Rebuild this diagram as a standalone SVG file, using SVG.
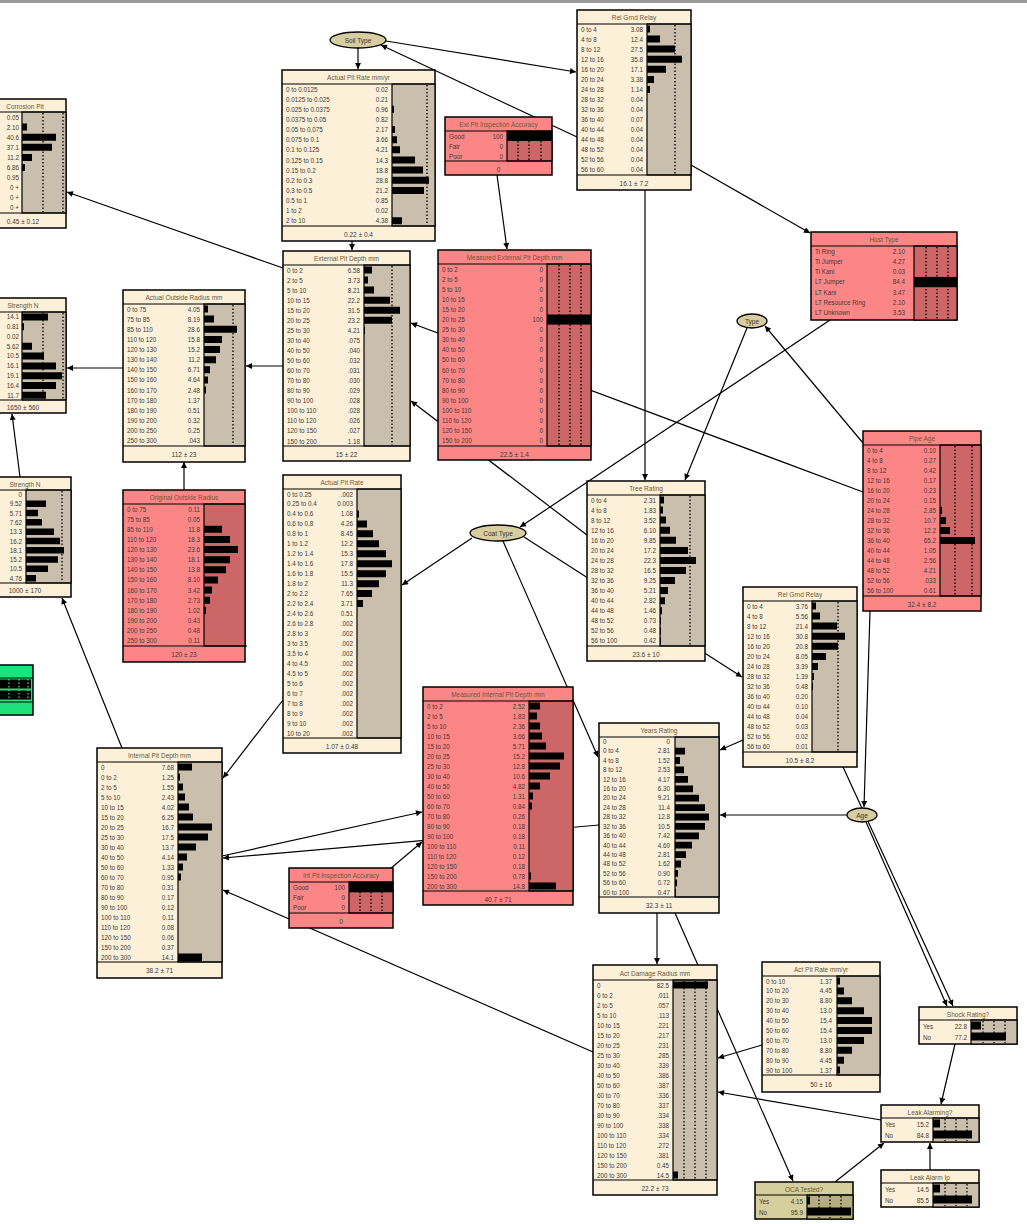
<svg xmlns="http://www.w3.org/2000/svg" width="1027" height="1224" viewBox="0 0 1027 1224">
<defs>
<marker id="a" viewBox="0 0 10 10" refX="10" refY="5" markerWidth="7" markerHeight="6" markerUnits="userSpaceOnUse" orient="auto"><path d="M0,0 L10,5 L0,10 z" fill="#000"/></marker>
<style>
.c{fill:#fdf0d9;stroke:#000;stroke-width:1.5}
.p{fill:#fc8686;stroke:#000;stroke-width:1.5}
.k{fill:#d4cf9c;stroke:#000;stroke-width:1.5}
.gr{fill:#20e07c;stroke:#000;stroke-width:1.5}
.ga{fill:#c9bfac;stroke:#000;stroke-width:1.2}
.pa{fill:#cd6767;stroke:#000;stroke-width:1.2}
.ka{fill:#b3ad80;stroke:#000;stroke-width:1.2}
.s{stroke:#000;stroke-width:1.2}
.d{stroke:#000;stroke-width:1.3;stroke-dasharray:1.5 2}
.b{fill:#000}
.e{fill:#d8cda0;stroke:#000;stroke-width:1.3}
text{font-family:"Liberation Sans",Arial,sans-serif}
.t{font-size:6.5px;fill:#6b5836;text-anchor:middle}
.l{font-size:6.3px;fill:#3a3a3a}
.v{font-size:6.3px;fill:#3a3a3a;text-anchor:end}
.f{font-size:6.5px;fill:#3a3a3a;text-anchor:middle}
.et{font-size:6.5px;fill:#333;text-anchor:middle}
#edges path{stroke:#000;stroke-width:1.2;fill:none;marker-end:url(#a)}
</style>
</defs>
<rect x="0" y="0" width="1027" height="1224" fill="#fff"/>
<rect x="0" y="0" width="1027" height="3" fill="#9a9a9a"/>

<g id="edges">
<path d="M358 48 L358 69"/>
<path d="M386 41 L576 72"/>
<path d="M577 137 L381 45"/>
<path d="M497 175 L507 249"/>
<path d="M352 241 L352 250"/>
<path d="M283 268 L67 192"/>
<path d="M283 366 L246 366"/>
<path d="M123 368 L67 368"/>
<path d="M184 490 L184 462"/>
<path d="M863 492 L411 323"/>
<path d="M587 535 L411 401"/>
<path d="M20 477 L12 414"/>
<path d="M122 748 L62 598"/>
<path d="M283 700 L223 778"/>
<path d="M472 538 L402 585"/>
<path d="M830 320 L520 527"/>
<path d="M645 190 L645 480"/>
<path d="M747 328 L685 480"/>
<path d="M863 443 L765 326"/>
<path d="M691 165 L810 233"/>
<path d="M524 537 L742 677"/>
<path d="M503 541 L598 757"/>
<path d="M743 740 L720 750"/>
<path d="M847 815 L720 815"/>
<path d="M870 611 L864 807"/>
<path d="M843 767 L953 1006"/>
<path d="M866 822 L947 1006"/>
<path d="M955 1044 L941 1104"/>
<path d="M881 1120 L718 1092"/>
<path d="M930 1170 L930 1143"/>
<path d="M835 1182 L884 1143"/>
<path d="M657 913 L657 964"/>
<path d="M675 913 L793 1181"/>
<path d="M762 1045 L718 1058"/>
<path d="M593 1052 L223 890"/>
<path d="M222 856 L422 812"/>
<path d="M599 825 L223 858"/>
<path d="M390 869 L422 842"/>
</g>

<g id="n_soil_type">
<ellipse class="e" cx="358" cy="40" rx="28" ry="8"/>
<text class="et" x="358" y="42.5">Soil Type</text>
</g>

<g id="n_actual_pit_rate_mmyr">
<rect class="c" x="282" y="70" width="153" height="171"/>
<rect class="ga" x="392" y="84" width="43" height="142"/>
<line class="s" x1="282" y1="84" x2="435" y2="84"/>
<line class="s" x1="282" y1="226" x2="435" y2="226"/>
<text class="t" x="358.5" y="80">Actual Pit Rate mm/yr</text>
<line class="d" x1="427" y1="85" x2="427" y2="225"/>
<path class="b" d="M392 105.8h2v7h-2z M392 126.1h3v7h-3z M392 136.2h5v7h-5z M392 146.3h8v7h-8z M392 156.5h23v7h-23z M392 166.6h31v7h-31z M392 176.8h37v7h-37z M392 186.9h32v7h-32z M392 217.3h10v7h-10z"/>
<text class="l" x="286" y="91.6"><tspan x="286">0 to 0.0125</tspan><tspan x="286" dy="10.14">0.0125 to 0.025</tspan><tspan x="286" dy="10.14">0.025 to 0.0375</tspan><tspan x="286" dy="10.14">0.0375 to 0.05</tspan><tspan x="286" dy="10.14">0.05 to 0.075</tspan><tspan x="286" dy="10.14">0.075 to 0.1</tspan><tspan x="286" dy="10.14">0.1 to 0.125</tspan><tspan x="286" dy="10.14">0.125 to 0.15</tspan><tspan x="286" dy="10.14">0.15 to 0.2</tspan><tspan x="286" dy="10.14">0.2 to 0.3</tspan><tspan x="286" dy="10.14">0.3 to 0.5</tspan><tspan x="286" dy="10.14">0.5 to 1</tspan><tspan x="286" dy="10.14">1 to 2</tspan><tspan x="286" dy="10.14">2 to 10</tspan></text>
<text class="v" x="388" y="91.6"><tspan x="388">0.02</tspan><tspan x="388" dy="10.14">0.21</tspan><tspan x="388" dy="10.14">0.96</tspan><tspan x="388" dy="10.14">0.82</tspan><tspan x="388" dy="10.14">2.17</tspan><tspan x="388" dy="10.14">3.66</tspan><tspan x="388" dy="10.14">4.21</tspan><tspan x="388" dy="10.14">14.3</tspan><tspan x="388" dy="10.14">18.8</tspan><tspan x="388" dy="10.14">28.8</tspan><tspan x="388" dy="10.14">21.2</tspan><tspan x="388" dy="10.14">0.85</tspan><tspan x="388" dy="10.14">0.02</tspan><tspan x="388" dy="10.14">4.38</tspan></text>
<text class="f" x="358.5" y="237">0.22 ± 0.4</text>
</g>

<g id="n_rel_grnd_relay_1">
<rect class="c" x="577" y="10" width="114" height="180"/>
<rect class="ga" x="647" y="24" width="44" height="151"/>
<line class="s" x1="577" y1="24" x2="691" y2="24"/>
<line class="s" x1="577" y1="175" x2="691" y2="175"/>
<text class="t" x="634" y="20">Rel Grnd Relay</text>
<line class="d" x1="675" y1="25" x2="675" y2="174"/>
<path class="b" d="M647 25.5h3v7h-3z M647 35.6h13v7h-13z M647 45.6h28v7h-28z M647 55.7h35v7h-35z M647 65.8h19v7h-19z M647 75.9h7v7h-7z M647 85.9h3v7h-3z"/>
<text class="l" x="581" y="31.5"><tspan x="581">0 to 4</tspan><tspan x="581" dy="10.07">4 to 8</tspan><tspan x="581" dy="10.07">8 to 12</tspan><tspan x="581" dy="10.07">12 to 16</tspan><tspan x="581" dy="10.07">16 to 20</tspan><tspan x="581" dy="10.07">20 to 24</tspan><tspan x="581" dy="10.07">24 to 28</tspan><tspan x="581" dy="10.07">28 to 32</tspan><tspan x="581" dy="10.07">32 to 36</tspan><tspan x="581" dy="10.07">36 to 40</tspan><tspan x="581" dy="10.07">40 to 44</tspan><tspan x="581" dy="10.07">44 to 48</tspan><tspan x="581" dy="10.07">48 to 52</tspan><tspan x="581" dy="10.07">52 to 56</tspan><tspan x="581" dy="10.07">56 to 60</tspan></text>
<text class="v" x="643" y="31.5"><tspan x="643">3.08</tspan><tspan x="643" dy="10.07">12.4</tspan><tspan x="643" dy="10.07">27.5</tspan><tspan x="643" dy="10.07">35.8</tspan><tspan x="643" dy="10.07">17.1</tspan><tspan x="643" dy="10.07">3.38</tspan><tspan x="643" dy="10.07">1.14</tspan><tspan x="643" dy="10.07">0.04</tspan><tspan x="643" dy="10.07">0.04</tspan><tspan x="643" dy="10.07">0.07</tspan><tspan x="643" dy="10.07">0.04</tspan><tspan x="643" dy="10.07">0.04</tspan><tspan x="643" dy="10.07">0.04</tspan><tspan x="643" dy="10.07">0.04</tspan><tspan x="643" dy="10.07">0.04</tspan></text>
<text class="f" x="634" y="186">16.1 ± 7.2</text>
</g>

<g id="n_ext_pit_inspection_accuracy">
<rect class="p" x="445" y="117" width="107" height="58"/>
<rect class="pa" x="507" y="131" width="45" height="30"/>
<line class="s" x1="445" y1="131" x2="552" y2="131"/>
<line class="s" x1="445" y1="161" x2="552" y2="161"/>
<text class="t" x="498.5" y="127">Ext Pit Inspection Accuracy</text>
<line class="d" x1="518" y1="141" x2="518" y2="161"/>
<line class="d" x1="529" y1="141" x2="529" y2="161"/>
<line class="d" x1="541" y1="141" x2="541" y2="161"/>
<rect class="b" x="507" y="131" width="45" height="10"/>
<text class="l" x="449" y="138.5"><tspan x="449">Good</tspan><tspan x="449" dy="10">Fair</tspan><tspan x="449" dy="10">Poor</tspan></text>
<text class="v" x="503" y="138.5"><tspan x="503">100</tspan><tspan x="503" dy="10">0</tspan><tspan x="503" dy="10">0</tspan></text>
<text class="f" x="498.5" y="172">0</text>
</g>

<g id="n_corrosion_pit">
<rect class="c" x="-20" y="99" width="86" height="129"/>
<rect class="ga" x="22" y="112" width="44" height="101"/>
<line class="s" x1="-20" y1="112" x2="66" y2="112"/>
<line class="s" x1="-20" y1="213" x2="66" y2="213"/>
<text class="t" x="25" y="109">Corrosion Pit</text>
<line class="d" x1="43" y1="113" x2="43" y2="212"/>
<line class="d" x1="63" y1="113" x2="63" y2="212"/>
<path class="b" d="M22 123.6h5v7h-5z M22 133.7h34v7h-34z M22 143.8h30v7h-30z M22 153.9h10v7h-10z M22 164h3v7h-3z"/>
<text class="v" x="19" y="119.5"><tspan x="19">0.05</tspan><tspan x="19" dy="10.1">2.10</tspan><tspan x="19" dy="10.1">40.6</tspan><tspan x="19" dy="10.1">37.1</tspan><tspan x="19" dy="10.1">11.2</tspan><tspan x="19" dy="10.1">6.86</tspan><tspan x="19" dy="10.1">0.95</tspan><tspan x="19" dy="10.1">0 +</tspan><tspan x="19" dy="10.1">0 +</tspan><tspan x="19" dy="10.1">0 +</tspan></text>
<text class="f" x="23" y="224">0.45 ± 0.12</text>
</g>

<g id="n_strength_1">
<rect class="c" x="-20" y="298" width="86" height="115"/>
<rect class="ga" x="22" y="312" width="44" height="88"/>
<line class="s" x1="-20" y1="312" x2="66" y2="312"/>
<line class="s" x1="-20" y1="400" x2="66" y2="400"/>
<text class="t" x="23" y="308">Strength N</text>
<line class="d" x1="43" y1="313" x2="43" y2="399"/>
<line class="d" x1="63" y1="313" x2="63" y2="399"/>
<path class="b" d="M22 313.5h26v7h-26z M22 323.3h2v7h-2z M22 342.8h10v7h-10z M22 352.6h22v7h-22z M22 362.4h34v7h-34z M22 372.2h40v7h-40z M22 382h34v7h-34z M22 391.7h24v7h-24z"/>
<text class="v" x="19" y="319.3"><tspan x="19">14.1</tspan><tspan x="19" dy="9.78">0.81</tspan><tspan x="19" dy="9.78">0.02</tspan><tspan x="19" dy="9.78">5.62</tspan><tspan x="19" dy="9.78">10.5</tspan><tspan x="19" dy="9.78">16.1</tspan><tspan x="19" dy="9.78">19.1</tspan><tspan x="19" dy="9.78">16.4</tspan><tspan x="19" dy="9.78">11.7</tspan></text>
<text class="f" x="23" y="410">1650 ± 560</text>
</g>

<g id="n_strength_2">
<rect class="c" x="-20" y="477" width="91" height="120"/>
<rect class="ga" x="26" y="490" width="45" height="93"/>
<line class="s" x1="-20" y1="490" x2="71" y2="490"/>
<line class="s" x1="-20" y1="583" x2="71" y2="583"/>
<text class="t" x="25" y="487">Strength N</text>
<line class="d" x1="62" y1="491" x2="62" y2="582"/>
<path class="b" d="M26 500.5h20v6.5h-20z M26 509.8h12v6.5h-12z M26 519.1h16v6.5h-16z M26 528.4h28v6.5h-28z M26 537.7h34v6.5h-34z M26 547h38v6.5h-38z M26 556.3h32v6.5h-32z M26 565.6h22v6.5h-22z M26 574.9h10v6.5h-10z"/>
<text class="v" x="22" y="497"><tspan x="22">0</tspan><tspan x="22" dy="9.3">9.52</tspan><tspan x="22" dy="9.3">5.71</tspan><tspan x="22" dy="9.3">7.62</tspan><tspan x="22" dy="9.3">13.3</tspan><tspan x="22" dy="9.3">16.2</tspan><tspan x="22" dy="9.3">18.1</tspan><tspan x="22" dy="9.3">15.2</tspan><tspan x="22" dy="9.3">10.5</tspan><tspan x="22" dy="9.3">4.76</tspan></text>
<text class="f" x="25" y="593">1000 ± 170</text>
</g>

<g id="n_green_partial">
<rect class="gr" x="-20" y="665" width="53" height="50"/>
<line class="s" x1="-20" y1="678" x2="33" y2="678"/>
<line class="s" x1="-20" y1="702" x2="33" y2="702"/>
<rect class="b" x="0" y="679.5" width="31" height="9"/>
<rect class="b" x="0" y="690.5" width="31" height="9"/>
<line x1="9" y1="679" x2="9" y2="701" stroke="#20e07c" stroke-width="1.3" stroke-dasharray="1.5 2"/>
<line x1="19" y1="679" x2="19" y2="701" stroke="#20e07c" stroke-width="1.3" stroke-dasharray="1.5 2"/>
<line x1="28" y1="679" x2="28" y2="701" stroke="#20e07c" stroke-width="1.3" stroke-dasharray="1.5 2"/>
</g>

<g id="n_external_pit_depth">
<rect class="c" x="283" y="251" width="127" height="210"/>
<rect class="ga" x="364" y="265" width="46" height="181"/>
<line class="s" x1="283" y1="265" x2="410" y2="265"/>
<line class="s" x1="283" y1="446" x2="410" y2="446"/>
<text class="t" x="346.5" y="261">External Pit Depth mm</text>
<line class="d" x1="392" y1="266" x2="392" y2="445"/>
<path class="b" d="M364 266.5h8v7h-8z M364 276.6h4v7h-4z M364 286.6h10v7h-10z M364 296.7h26v7h-26z M364 306.7h36v7h-36z M364 316.8h28v7h-28z M364 326.9h1v7h-1z"/>
<text class="l" x="287" y="272.5"><tspan x="287">0 to 2</tspan><tspan x="287" dy="10.06">2 to 5</tspan><tspan x="287" dy="10.06">5 to 10</tspan><tspan x="287" dy="10.06">10 to 15</tspan><tspan x="287" dy="10.06">15 to 20</tspan><tspan x="287" dy="10.06">20 to 25</tspan><tspan x="287" dy="10.06">25 to 30</tspan><tspan x="287" dy="10.06">30 to 40</tspan><tspan x="287" dy="10.06">40 to 50</tspan><tspan x="287" dy="10.06">50 to 60</tspan><tspan x="287" dy="10.06">60 to 70</tspan><tspan x="287" dy="10.06">70 to 80</tspan><tspan x="287" dy="10.06">80 to 90</tspan><tspan x="287" dy="10.06">90 to 100</tspan><tspan x="287" dy="10.06">100 to 110</tspan><tspan x="287" dy="10.06">110 to 120</tspan><tspan x="287" dy="10.06">120 to 150</tspan><tspan x="287" dy="10.06">150 to 200</tspan></text>
<text class="v" x="360" y="272.5"><tspan x="360">6.58</tspan><tspan x="360" dy="10.06">3.73</tspan><tspan x="360" dy="10.06">8.21</tspan><tspan x="360" dy="10.06">22.2</tspan><tspan x="360" dy="10.06">31.5</tspan><tspan x="360" dy="10.06">23.2</tspan><tspan x="360" dy="10.06">4.21</tspan><tspan x="360" dy="10.06">.075</tspan><tspan x="360" dy="10.06">.040</tspan><tspan x="360" dy="10.06">.032</tspan><tspan x="360" dy="10.06">.031</tspan><tspan x="360" dy="10.06">.030</tspan><tspan x="360" dy="10.06">.029</tspan><tspan x="360" dy="10.06">.028</tspan><tspan x="360" dy="10.06">.028</tspan><tspan x="360" dy="10.06">.026</tspan><tspan x="360" dy="10.06">.027</tspan><tspan x="360" dy="10.06">1.18</tspan></text>
<text class="f" x="346.5" y="457">15 ± 22</text>
</g>

<g id="n_measured_external_pit_depth">
<rect class="p" x="438" y="250" width="153" height="210"/>
<rect class="pa" x="547" y="264" width="44" height="182"/>
<line class="s" x1="438" y1="264" x2="591" y2="264"/>
<line class="s" x1="438" y1="446" x2="591" y2="446"/>
<text class="t" x="514.5" y="260">Measured External Pit Depth mm</text>
<line class="d" x1="559" y1="265" x2="559" y2="445"/>
<line class="d" x1="570" y1="265" x2="570" y2="445"/>
<line class="d" x1="581" y1="265" x2="581" y2="445"/>
<rect class="b" x="547" y="314.5" width="44" height="10.1"/>
<text class="l" x="442" y="271.5"><tspan x="442">0 to 2</tspan><tspan x="442" dy="10.1">2 to 5</tspan><tspan x="442" dy="10.1">5 to 10</tspan><tspan x="442" dy="10.1">10 to 15</tspan><tspan x="442" dy="10.1">15 to 20</tspan><tspan x="442" dy="10.1">20 to 25</tspan><tspan x="442" dy="10.1">25 to 30</tspan><tspan x="442" dy="10.1">30 to 40</tspan><tspan x="442" dy="10.1">40 to 50</tspan><tspan x="442" dy="10.1">50 to 60</tspan><tspan x="442" dy="10.1">60 to 70</tspan><tspan x="442" dy="10.1">70 to 80</tspan><tspan x="442" dy="10.1">80 to 90</tspan><tspan x="442" dy="10.1">90 to 100</tspan><tspan x="442" dy="10.1">100 to 110</tspan><tspan x="442" dy="10.1">110 to 120</tspan><tspan x="442" dy="10.1">120 to 150</tspan><tspan x="442" dy="10.1">150 to 200</tspan></text>
<text class="v" x="543" y="271.5"><tspan x="543">0</tspan><tspan x="543" dy="10.1">0</tspan><tspan x="543" dy="10.1">0</tspan><tspan x="543" dy="10.1">0</tspan><tspan x="543" dy="10.1">0</tspan><tspan x="543" dy="10.1">100</tspan><tspan x="543" dy="10.1">0</tspan><tspan x="543" dy="10.1">0</tspan><tspan x="543" dy="10.1">0</tspan><tspan x="543" dy="10.1">0</tspan><tspan x="543" dy="10.1">0</tspan><tspan x="543" dy="10.1">0</tspan><tspan x="543" dy="10.1">0</tspan><tspan x="543" dy="10.1">0</tspan><tspan x="543" dy="10.1">0</tspan><tspan x="543" dy="10.1">0</tspan><tspan x="543" dy="10.1">0</tspan><tspan x="543" dy="10.1">0</tspan></text>
<text class="f" x="514.5" y="457">22.5 ± 1.4</text>
</g>

<g id="n_actual_outside_radius">
<rect class="c" x="123" y="290" width="122" height="172"/>
<rect class="ga" x="204" y="304" width="41" height="142"/>
<line class="s" x1="123" y1="304" x2="245" y2="304"/>
<line class="s" x1="123" y1="446" x2="245" y2="446"/>
<text class="t" x="184" y="300">Actual Outside Radius mm</text>
<line class="d" x1="233" y1="305" x2="233" y2="445"/>
<path class="b" d="M204 305.5h4v7h-4z M204 315.6h10v7h-10z M204 325.8h33v7h-33z M204 335.9h18v7h-18z M204 346.1h16v7h-16z M204 356.2h12v7h-12z M204 366.3h6v7h-6z M204 376.5h4v7h-4z M204 386.6h2v7h-2z"/>
<text class="l" x="127" y="311.5"><tspan x="127">0 to 75</tspan><tspan x="127" dy="10.14">75 to 85</tspan><tspan x="127" dy="10.14">85 to 110</tspan><tspan x="127" dy="10.14">110 to 120</tspan><tspan x="127" dy="10.14">120 to 130</tspan><tspan x="127" dy="10.14">130 to 140</tspan><tspan x="127" dy="10.14">140 to 150</tspan><tspan x="127" dy="10.14">150 to 160</tspan><tspan x="127" dy="10.14">160 to 170</tspan><tspan x="127" dy="10.14">170 to 180</tspan><tspan x="127" dy="10.14">180 to 190</tspan><tspan x="127" dy="10.14">190 to 200</tspan><tspan x="127" dy="10.14">200 to 250</tspan><tspan x="127" dy="10.14">250 to 300</tspan></text>
<text class="v" x="200" y="311.5"><tspan x="200">4.05</tspan><tspan x="200" dy="10.14">8.19</tspan><tspan x="200" dy="10.14">28.6</tspan><tspan x="200" dy="10.14">15.8</tspan><tspan x="200" dy="10.14">15.2</tspan><tspan x="200" dy="10.14">11.2</tspan><tspan x="200" dy="10.14">6.71</tspan><tspan x="200" dy="10.14">4.64</tspan><tspan x="200" dy="10.14">2.48</tspan><tspan x="200" dy="10.14">1.37</tspan><tspan x="200" dy="10.14">0.51</tspan><tspan x="200" dy="10.14">0.32</tspan><tspan x="200" dy="10.14">0.25</tspan><tspan x="200" dy="10.14">.043</tspan></text>
<text class="f" x="184" y="457">112 ± 23</text>
</g>

<g id="n_original_outside_radius">
<rect class="p" x="123" y="490" width="122" height="172"/>
<rect class="pa" x="204" y="504" width="41" height="142"/>
<line class="s" x1="123" y1="504" x2="245" y2="504"/>
<line class="s" x1="123" y1="646" x2="247" y2="646"/>
<text class="t" x="184" y="500">Original Outside Radius</text>
<path class="b" d="M204 525.8h18v7h-18z M204 535.9h26v7h-26z M204 546.1h34v7h-34z M204 556.2h26v7h-26z M204 566.3h22v7h-22z M204 576.5h14v7h-14z M204 586.6h8v7h-8z M204 596.8h6v7h-6z M204 606.9h2v7h-2z"/>
<text class="l" x="127" y="511.5"><tspan x="127">0 to 75</tspan><tspan x="127" dy="10.14">75 to 85</tspan><tspan x="127" dy="10.14">85 to 110</tspan><tspan x="127" dy="10.14">110 to 120</tspan><tspan x="127" dy="10.14">120 to 130</tspan><tspan x="127" dy="10.14">130 to 140</tspan><tspan x="127" dy="10.14">140 to 150</tspan><tspan x="127" dy="10.14">150 to 160</tspan><tspan x="127" dy="10.14">160 to 170</tspan><tspan x="127" dy="10.14">170 to 180</tspan><tspan x="127" dy="10.14">180 to 190</tspan><tspan x="127" dy="10.14">190 to 200</tspan><tspan x="127" dy="10.14">200 to 250</tspan><tspan x="127" dy="10.14">250 to 300</tspan></text>
<text class="v" x="200" y="511.5"><tspan x="200">0.11</tspan><tspan x="200" dy="10.14">0.05</tspan><tspan x="200" dy="10.14">11.8</tspan><tspan x="200" dy="10.14">18.3</tspan><tspan x="200" dy="10.14">23.6</tspan><tspan x="200" dy="10.14">18.1</tspan><tspan x="200" dy="10.14">13.8</tspan><tspan x="200" dy="10.14">8.10</tspan><tspan x="200" dy="10.14">3.42</tspan><tspan x="200" dy="10.14">2.73</tspan><tspan x="200" dy="10.14">1.02</tspan><tspan x="200" dy="10.14">0.43</tspan><tspan x="200" dy="10.14">0.48</tspan><tspan x="200" dy="10.14">0.11</tspan></text>
<text class="f" x="184" y="657">120 ± 23</text>
</g>

<g id="n_host_type">
<rect class="p" x="811" y="232" width="146" height="88"/>
<rect class="pa" x="914" y="246" width="43" height="74"/>
<line class="s" x1="811" y1="246" x2="957" y2="246"/>
<text class="t" x="884" y="242">Host Type</text>
<line class="d" x1="926" y1="247" x2="926" y2="319"/>
<line class="d" x1="937" y1="247" x2="937" y2="319"/>
<line class="d" x1="948" y1="247" x2="948" y2="319"/>
<rect class="b" x="914" y="276.9" width="43" height="10.3"/>
<text class="l" x="815" y="253.5"><tspan x="815">Ti Ring</tspan><tspan x="815" dy="10.29">Ti Jumper</tspan><tspan x="815" dy="10.29">Ti Kani</tspan><tspan x="815" dy="10.29">LT Jumper</tspan><tspan x="815" dy="10.29">LT Kani</tspan><tspan x="815" dy="10.29">LT Resource Ring</tspan><tspan x="815" dy="10.29">LT Unknown</tspan></text>
<text class="v" x="905" y="253.5"><tspan x="905">2.10</tspan><tspan x="905" dy="10.29">4.27</tspan><tspan x="905" dy="10.29">0.03</tspan><tspan x="905" dy="10.29">84.4</tspan><tspan x="905" dy="10.29">3.47</tspan><tspan x="905" dy="10.29">2.10</tspan><tspan x="905" dy="10.29">3.53</tspan></text>
</g>

<g id="n_type">
<ellipse class="e" cx="752" cy="321" rx="15" ry="7"/>
<text class="et" x="752" y="323.5">Type</text>
</g>

<g id="n_pipe_age">
<rect class="p" x="863" y="431" width="118" height="180"/>
<rect class="pa" x="940" y="445" width="41" height="151"/>
<line class="s" x1="863" y1="445" x2="981" y2="445"/>
<line class="s" x1="863" y1="596" x2="981" y2="596"/>
<text class="t" x="922" y="441">Pipe Age</text>
<line class="d" x1="955" y1="446" x2="955" y2="595"/>
<line class="d" x1="972" y1="446" x2="972" y2="595"/>
<path class="b" d="M940 506.9h2v7h-2z M940 517h6v7h-6z M940 527.1h10v7h-10z M940 537.1h35v7h-35z"/>
<text class="l" x="867" y="452.5"><tspan x="867">0 to 4</tspan><tspan x="867" dy="10.07">4 to 8</tspan><tspan x="867" dy="10.07">8 to 12</tspan><tspan x="867" dy="10.07">12 to 16</tspan><tspan x="867" dy="10.07">16 to 20</tspan><tspan x="867" dy="10.07">20 to 24</tspan><tspan x="867" dy="10.07">24 to 28</tspan><tspan x="867" dy="10.07">28 to 32</tspan><tspan x="867" dy="10.07">32 to 36</tspan><tspan x="867" dy="10.07">36 to 40</tspan><tspan x="867" dy="10.07">40 to 44</tspan><tspan x="867" dy="10.07">44 to 48</tspan><tspan x="867" dy="10.07">48 to 52</tspan><tspan x="867" dy="10.07">52 to 56</tspan><tspan x="867" dy="10.07">56 to 100</tspan></text>
<text class="v" x="936" y="452.5"><tspan x="936">0.10</tspan><tspan x="936" dy="10.07">0.27</tspan><tspan x="936" dy="10.07">0.42</tspan><tspan x="936" dy="10.07">0.17</tspan><tspan x="936" dy="10.07">0.23</tspan><tspan x="936" dy="10.07">0.15</tspan><tspan x="936" dy="10.07">2.85</tspan><tspan x="936" dy="10.07">10.7</tspan><tspan x="936" dy="10.07">12.2</tspan><tspan x="936" dy="10.07">65.2</tspan><tspan x="936" dy="10.07">1.05</tspan><tspan x="936" dy="10.07">2.56</tspan><tspan x="936" dy="10.07">4.21</tspan><tspan x="936" dy="10.07">.033</tspan><tspan x="936" dy="10.07">0.61</tspan></text>
<text class="f" x="922" y="607">32.4 ± 8.2</text>
</g>

<g id="n_tree_rating">
<rect class="c" x="587" y="481" width="118" height="180"/>
<rect class="ga" x="660" y="495" width="45" height="151"/>
<line class="s" x1="587" y1="495" x2="705" y2="495"/>
<line class="s" x1="587" y1="646" x2="705" y2="646"/>
<text class="t" x="646" y="491">Tree Rating</text>
<line class="d" x1="690" y1="496" x2="690" y2="645"/>
<path class="b" d="M660 496.5h4v7h-4z M660 506.6h3v7h-3z M660 516.6h6v7h-6z M660 526.7h10v7h-10z M660 536.8h16v7h-16z M660 546.9h28v7h-28z M660 556.9h36v7h-36z M660 567h26v7h-26z M660 577.1h15v7h-15z M660 587.1h8v7h-8z M660 597.2h5v7h-5z M660 607.3h2v7h-2z M660 617.3h1v7h-1z M660 627.4h1v7h-1z M660 637.5h1v7h-1z"/>
<text class="l" x="591" y="502.5"><tspan x="591">0 to 4</tspan><tspan x="591" dy="10.07">4 to 8</tspan><tspan x="591" dy="10.07">8 to 12</tspan><tspan x="591" dy="10.07">12 to 16</tspan><tspan x="591" dy="10.07">16 to 20</tspan><tspan x="591" dy="10.07">20 to 24</tspan><tspan x="591" dy="10.07">24 to 28</tspan><tspan x="591" dy="10.07">28 to 32</tspan><tspan x="591" dy="10.07">32 to 36</tspan><tspan x="591" dy="10.07">36 to 40</tspan><tspan x="591" dy="10.07">40 to 44</tspan><tspan x="591" dy="10.07">44 to 48</tspan><tspan x="591" dy="10.07">48 to 52</tspan><tspan x="591" dy="10.07">52 to 56</tspan><tspan x="591" dy="10.07">56 to 100</tspan></text>
<text class="v" x="656" y="502.5"><tspan x="656">2.31</tspan><tspan x="656" dy="10.07">1.83</tspan><tspan x="656" dy="10.07">3.52</tspan><tspan x="656" dy="10.07">6.10</tspan><tspan x="656" dy="10.07">9.85</tspan><tspan x="656" dy="10.07">17.2</tspan><tspan x="656" dy="10.07">22.3</tspan><tspan x="656" dy="10.07">16.5</tspan><tspan x="656" dy="10.07">9.25</tspan><tspan x="656" dy="10.07">5.21</tspan><tspan x="656" dy="10.07">2.82</tspan><tspan x="656" dy="10.07">1.46</tspan><tspan x="656" dy="10.07">0.73</tspan><tspan x="656" dy="10.07">0.48</tspan><tspan x="656" dy="10.07">0.42</tspan></text>
<text class="f" x="646" y="657">23.6 ± 10</text>
</g>

<g id="n_coat_type">
<ellipse class="e" cx="498" cy="533" rx="28" ry="8"/>
<text class="et" x="498" y="535.5">Coat Type</text>
</g>

<g id="n_actual_pit_rate">
<rect class="c" x="283" y="475" width="118" height="278"/>
<rect class="ga" x="357" y="489" width="44" height="249"/>
<line class="s" x1="283" y1="489" x2="401" y2="489"/>
<line class="s" x1="283" y1="738" x2="401" y2="738"/>
<text class="t" x="342" y="485">Actual Pit Rate</text>
<path class="b" d="M357 510.4h2v7h-2z M357 520.4h10v7h-10z M357 530.3h16v7h-16z M357 540.3h22v7h-22z M357 550.3h29v7h-29z M357 560.2h35v7h-35z M357 570.2h29v7h-29z M357 580.2h22v7h-22z M357 590.1h15v7h-15z M357 600.1h6v7h-6z"/>
<text class="l" x="287" y="496.5"><tspan x="287">0 to 0.25</tspan><tspan x="287" dy="9.96">0.25 to 0.4</tspan><tspan x="287" dy="9.96">0.4 to 0.6</tspan><tspan x="287" dy="9.96">0.6 to 0.8</tspan><tspan x="287" dy="9.96">0.8 to 1</tspan><tspan x="287" dy="9.96">1 to 1.2</tspan><tspan x="287" dy="9.96">1.2 to 1.4</tspan><tspan x="287" dy="9.96">1.4 to 1.6</tspan><tspan x="287" dy="9.96">1.6 to 1.8</tspan><tspan x="287" dy="9.96">1.8 to 2</tspan><tspan x="287" dy="9.96">2 to 2.2</tspan><tspan x="287" dy="9.96">2.2 to 2.4</tspan><tspan x="287" dy="9.96">2.4 to 2.6</tspan><tspan x="287" dy="9.96">2.6 to 2.8</tspan><tspan x="287" dy="9.96">2.8 to 3</tspan><tspan x="287" dy="9.96">3 to 3.5</tspan><tspan x="287" dy="9.96">3.5 to 4</tspan><tspan x="287" dy="9.96">4 to 4.5</tspan><tspan x="287" dy="9.96">4.5 to 5</tspan><tspan x="287" dy="9.96">5 to 6</tspan><tspan x="287" dy="9.96">6 to 7</tspan><tspan x="287" dy="9.96">7 to 8</tspan><tspan x="287" dy="9.96">8 to 9</tspan><tspan x="287" dy="9.96">9 to 10</tspan><tspan x="287" dy="9.96">10 to 20</tspan></text>
<text class="v" x="353" y="496.5"><tspan x="353">.002</tspan><tspan x="353" dy="9.96">0.003</tspan><tspan x="353" dy="9.96">1.08</tspan><tspan x="353" dy="9.96">4.26</tspan><tspan x="353" dy="9.96">8.45</tspan><tspan x="353" dy="9.96">12.2</tspan><tspan x="353" dy="9.96">15.3</tspan><tspan x="353" dy="9.96">17.8</tspan><tspan x="353" dy="9.96">15.5</tspan><tspan x="353" dy="9.96">11.3</tspan><tspan x="353" dy="9.96">7.65</tspan><tspan x="353" dy="9.96">3.71</tspan><tspan x="353" dy="9.96">0.51</tspan><tspan x="353" dy="9.96">.002</tspan><tspan x="353" dy="9.96">.002</tspan><tspan x="353" dy="9.96">.002</tspan><tspan x="353" dy="9.96">.002</tspan><tspan x="353" dy="9.96">.002</tspan><tspan x="353" dy="9.96">.002</tspan><tspan x="353" dy="9.96">.002</tspan><tspan x="353" dy="9.96">.002</tspan><tspan x="353" dy="9.96">.002</tspan><tspan x="353" dy="9.96">.002</tspan><tspan x="353" dy="9.96">.002</tspan><tspan x="353" dy="9.96">.002</tspan></text>
<text class="f" x="342" y="749">1.07 ± 0.48</text>
</g>

<g id="n_rel_grnd_relay_2">
<rect class="c" x="743" y="587" width="114" height="180"/>
<rect class="ga" x="812" y="601" width="45" height="151"/>
<line class="s" x1="743" y1="601" x2="857" y2="601"/>
<line class="s" x1="743" y1="752" x2="857" y2="752"/>
<text class="t" x="800" y="597">Rel Grnd Relay</text>
<line class="d" x1="838" y1="602" x2="838" y2="751"/>
<path class="b" d="M812 602.5h4v7h-4z M812 612.6h8v7h-8z M812 622.6h25v7h-25z M812 632.7h33v7h-33z M812 642.8h26v7h-26z M812 652.9h14v7h-14z M812 662.9h6v7h-6z M812 673h2v7h-2z M812 683.1h1v7h-1z"/>
<text class="l" x="747" y="608.5"><tspan x="747">0 to 4</tspan><tspan x="747" dy="10.07">4 to 8</tspan><tspan x="747" dy="10.07">8 to 12</tspan><tspan x="747" dy="10.07">12 to 16</tspan><tspan x="747" dy="10.07">16 to 20</tspan><tspan x="747" dy="10.07">20 to 24</tspan><tspan x="747" dy="10.07">24 to 28</tspan><tspan x="747" dy="10.07">28 to 32</tspan><tspan x="747" dy="10.07">32 to 36</tspan><tspan x="747" dy="10.07">36 to 40</tspan><tspan x="747" dy="10.07">40 to 44</tspan><tspan x="747" dy="10.07">44 to 48</tspan><tspan x="747" dy="10.07">48 to 52</tspan><tspan x="747" dy="10.07">52 to 56</tspan><tspan x="747" dy="10.07">56 to 60</tspan></text>
<text class="v" x="808" y="608.5"><tspan x="808">3.76</tspan><tspan x="808" dy="10.07">5.56</tspan><tspan x="808" dy="10.07">21.4</tspan><tspan x="808" dy="10.07">30.8</tspan><tspan x="808" dy="10.07">20.8</tspan><tspan x="808" dy="10.07">8.05</tspan><tspan x="808" dy="10.07">3.39</tspan><tspan x="808" dy="10.07">1.39</tspan><tspan x="808" dy="10.07">0.48</tspan><tspan x="808" dy="10.07">0.20</tspan><tspan x="808" dy="10.07">0.10</tspan><tspan x="808" dy="10.07">0.04</tspan><tspan x="808" dy="10.07">0.03</tspan><tspan x="808" dy="10.07">0.02</tspan><tspan x="808" dy="10.07">0.01</tspan></text>
<text class="f" x="800" y="763">10.5 ± 8.2</text>
</g>

<g id="n_measured_internal_pit_depth">
<rect class="p" x="423" y="687" width="150" height="218"/>
<rect class="pa" x="529" y="701" width="44" height="190"/>
<line class="s" x1="423" y1="701" x2="573" y2="701"/>
<line class="s" x1="423" y1="891" x2="573" y2="891"/>
<text class="t" x="498" y="697">Measured Internal Pit Depth mm</text>
<path class="b" d="M529 702.5h11v7h-11z M529 712.5h8v7h-8z M529 722.5h11v7h-11z M529 732.5h13v7h-13z M529 742.5h17v7h-17z M529 752.5h35v7h-35z M529 762.5h31v7h-31z M529 772.5h21v7h-21z M529 782.5h11v7h-11z M529 792.5h4v7h-4z M529 802.5h3v7h-3z M529 872.5h2v7h-2z M529 882.5h27v7h-27z"/>
<text class="l" x="427" y="708.5"><tspan x="427">0 to 2</tspan><tspan x="427" dy="10">2 to 5</tspan><tspan x="427" dy="10">5 to 10</tspan><tspan x="427" dy="10">10 to 15</tspan><tspan x="427" dy="10">15 to 20</tspan><tspan x="427" dy="10">20 to 25</tspan><tspan x="427" dy="10">25 to 30</tspan><tspan x="427" dy="10">30 to 40</tspan><tspan x="427" dy="10">40 to 50</tspan><tspan x="427" dy="10">50 to 60</tspan><tspan x="427" dy="10">60 to 70</tspan><tspan x="427" dy="10">70 to 80</tspan><tspan x="427" dy="10">80 to 90</tspan><tspan x="427" dy="10">90 to 100</tspan><tspan x="427" dy="10">100 to 110</tspan><tspan x="427" dy="10">110 to 120</tspan><tspan x="427" dy="10">120 to 150</tspan><tspan x="427" dy="10">150 to 200</tspan><tspan x="427" dy="10">200 to 300</tspan></text>
<text class="v" x="525" y="708.5"><tspan x="525">2.52</tspan><tspan x="525" dy="10">1.83</tspan><tspan x="525" dy="10">2.36</tspan><tspan x="525" dy="10">3.66</tspan><tspan x="525" dy="10">5.71</tspan><tspan x="525" dy="10">15.2</tspan><tspan x="525" dy="10">12.8</tspan><tspan x="525" dy="10">10.6</tspan><tspan x="525" dy="10">4.82</tspan><tspan x="525" dy="10">1.31</tspan><tspan x="525" dy="10">0.84</tspan><tspan x="525" dy="10">0.26</tspan><tspan x="525" dy="10">0.18</tspan><tspan x="525" dy="10">0.18</tspan><tspan x="525" dy="10">0.11</tspan><tspan x="525" dy="10">0.12</tspan><tspan x="525" dy="10">0.18</tspan><tspan x="525" dy="10">0.78</tspan><tspan x="525" dy="10">14.8</tspan></text>
<text class="f" x="498" y="902">40.7 ± 71</text>
</g>

<g id="n_years_rating">
<rect class="c" x="599" y="723" width="120" height="190"/>
<rect class="ga" x="675" y="737" width="44" height="160"/>
<line class="s" x1="599" y1="737" x2="719" y2="737"/>
<line class="s" x1="599" y1="897" x2="719" y2="897"/>
<text class="t" x="659" y="733">Years Rating</text>
<path class="b" d="M675 747.7h10v6.8h-10z M675 757.1h5v6.8h-5z M675 766.5h9v6.8h-9z M675 775.9h13v6.8h-13z M675 785.4h18v6.8h-18z M675 794.8h24v6.8h-24z M675 804.2h30v6.8h-30z M675 813.6h34v6.8h-34z M675 823h30v6.8h-30z M675 832.4h24v6.8h-24z M675 841.8h17v6.8h-17z M675 851.2h11v6.8h-11z M675 860.6h6v6.8h-6z M675 870h3v6.8h-3z M675 879.5h2v6.8h-2z M675 888.9h1v6.8h-1z"/>
<text class="l" x="603" y="744"><tspan x="603">0</tspan><tspan x="603" dy="9.41">0 to 4</tspan><tspan x="603" dy="9.41">4 to 8</tspan><tspan x="603" dy="9.41">8 to 12</tspan><tspan x="603" dy="9.41">12 to 16</tspan><tspan x="603" dy="9.41">16 to 20</tspan><tspan x="603" dy="9.41">20 to 24</tspan><tspan x="603" dy="9.41">24 to 28</tspan><tspan x="603" dy="9.41">28 to 32</tspan><tspan x="603" dy="9.41">32 to 36</tspan><tspan x="603" dy="9.41">36 to 40</tspan><tspan x="603" dy="9.41">40 to 44</tspan><tspan x="603" dy="9.41">44 to 48</tspan><tspan x="603" dy="9.41">48 to 52</tspan><tspan x="603" dy="9.41">52 to 56</tspan><tspan x="603" dy="9.41">56 to 60</tspan><tspan x="603" dy="9.41">60 to 100</tspan></text>
<text class="v" x="670" y="744"><tspan x="670">0</tspan><tspan x="670" dy="9.41">2.81</tspan><tspan x="670" dy="9.41">1.52</tspan><tspan x="670" dy="9.41">2.53</tspan><tspan x="670" dy="9.41">4.17</tspan><tspan x="670" dy="9.41">6.30</tspan><tspan x="670" dy="9.41">9.21</tspan><tspan x="670" dy="9.41">11.4</tspan><tspan x="670" dy="9.41">12.8</tspan><tspan x="670" dy="9.41">10.5</tspan><tspan x="670" dy="9.41">7.42</tspan><tspan x="670" dy="9.41">4.60</tspan><tspan x="670" dy="9.41">2.81</tspan><tspan x="670" dy="9.41">1.62</tspan><tspan x="670" dy="9.41">0.90</tspan><tspan x="670" dy="9.41">0.72</tspan><tspan x="670" dy="9.41">0.47</tspan></text>
<text class="f" x="659" y="908">32.3 ± 11</text>
</g>

<g id="n_age">
<ellipse class="e" cx="862" cy="815" rx="15" ry="7"/>
<text class="et" x="862" y="817.5">Age</text>
</g>

<g id="n_internal_pit_depth">
<rect class="c" x="97" y="748" width="125" height="230"/>
<rect class="ga" x="178" y="762" width="44" height="200"/>
<line class="s" x1="97" y1="762" x2="222" y2="762"/>
<line class="s" x1="97" y1="962" x2="222" y2="962"/>
<text class="t" x="159.5" y="758">Internal Pit Depth mm</text>
<path class="b" d="M178 763.5h14v7h-14z M178 773.5h2v7h-2z M178 783.5h5v7h-5z M178 793.5h7v7h-7z M178 803.5h11v7h-11z M178 813.5h15v7h-15z M178 823.5h34v7h-34z M178 833.5h30v7h-30z M178 843.5h18v7h-18z M178 853.5h9v7h-9z M178 863.5h5v7h-5z M178 873.5h3v7h-3z M178 953.5h24v8h-24z"/>
<text class="l" x="101" y="769.5"><tspan x="101">0</tspan><tspan x="101" dy="10">0 to 2</tspan><tspan x="101" dy="10">2 to 5</tspan><tspan x="101" dy="10">5 to 10</tspan><tspan x="101" dy="10">10 to 15</tspan><tspan x="101" dy="10">15 to 20</tspan><tspan x="101" dy="10">20 to 25</tspan><tspan x="101" dy="10">25 to 30</tspan><tspan x="101" dy="10">30 to 40</tspan><tspan x="101" dy="10">40 to 50</tspan><tspan x="101" dy="10">50 to 60</tspan><tspan x="101" dy="10">60 to 70</tspan><tspan x="101" dy="10">70 to 80</tspan><tspan x="101" dy="10">80 to 90</tspan><tspan x="101" dy="10">90 to 100</tspan><tspan x="101" dy="10">100 to 110</tspan><tspan x="101" dy="10">110 to 120</tspan><tspan x="101" dy="10">120 to 150</tspan><tspan x="101" dy="10">150 to 200</tspan><tspan x="101" dy="10">200 to 300</tspan></text>
<text class="v" x="174" y="769.5"><tspan x="174">7.68</tspan><tspan x="174" dy="10">1.25</tspan><tspan x="174" dy="10">1.55</tspan><tspan x="174" dy="10">2.43</tspan><tspan x="174" dy="10">4.02</tspan><tspan x="174" dy="10">6.25</tspan><tspan x="174" dy="10">16.7</tspan><tspan x="174" dy="10">17.5</tspan><tspan x="174" dy="10">13.7</tspan><tspan x="174" dy="10">4.14</tspan><tspan x="174" dy="10">1.33</tspan><tspan x="174" dy="10">0.95</tspan><tspan x="174" dy="10">0.31</tspan><tspan x="174" dy="10">0.17</tspan><tspan x="174" dy="10">0.12</tspan><tspan x="174" dy="10">0.11</tspan><tspan x="174" dy="10">0.08</tspan><tspan x="174" dy="10">0.06</tspan><tspan x="174" dy="10">0.37</tspan><tspan x="174" dy="10">14.1</tspan></text>
<text class="f" x="159.5" y="973">38.2 ± 71</text>
</g>

<g id="n_int_pit_inspection_accuracy">
<rect class="p" x="289" y="868" width="104" height="60"/>
<rect class="pa" x="349" y="882" width="44" height="31"/>
<line class="s" x1="289" y1="882" x2="393" y2="882"/>
<line class="s" x1="289" y1="913" x2="393" y2="913"/>
<text class="t" x="341" y="878">Int Pit Inspection Accuracy</text>
<line class="d" x1="360" y1="892" x2="360" y2="913"/>
<line class="d" x1="371" y1="892" x2="371" y2="913"/>
<line class="d" x1="382" y1="892" x2="382" y2="913"/>
<rect class="b" x="349" y="882" width="44" height="10.3"/>
<text class="l" x="293" y="889.5"><tspan x="293">Good</tspan><tspan x="293" dy="10.3">Fair</tspan><tspan x="293" dy="10.3">Poor</tspan></text>
<text class="v" x="345" y="889.5"><tspan x="345">100</tspan><tspan x="345" dy="10.3">0</tspan><tspan x="345" dy="10.3">0</tspan></text>
<text class="f" x="341" y="924">0</text>
</g>

<g id="n_act_damage_radius">
<rect class="c" x="593" y="965" width="124" height="230"/>
<rect class="ga" x="673" y="980" width="44" height="200"/>
<line class="s" x1="593" y1="980" x2="717" y2="980"/>
<line class="s" x1="593" y1="1180" x2="717" y2="1180"/>
<text class="t" x="655" y="976">Act Damage Radius mm</text>
<path class="b" d="M673 981.5h35v7h-35z M673 1171.5h5v7h-5z"/>
<line class="d" x1="684" y1="981" x2="684" y2="1179"/>
<line class="d" x1="695" y1="981" x2="695" y2="1179"/>
<line class="d" x1="706" y1="981" x2="706" y2="1179"/>
<text class="l" x="597" y="987.5"><tspan x="597">0</tspan><tspan x="597" dy="10">0 to 2</tspan><tspan x="597" dy="10">2 to 5</tspan><tspan x="597" dy="10">5 to 10</tspan><tspan x="597" dy="10">10 to 15</tspan><tspan x="597" dy="10">15 to 20</tspan><tspan x="597" dy="10">20 to 25</tspan><tspan x="597" dy="10">25 to 30</tspan><tspan x="597" dy="10">30 to 40</tspan><tspan x="597" dy="10">40 to 50</tspan><tspan x="597" dy="10">50 to 60</tspan><tspan x="597" dy="10">60 to 70</tspan><tspan x="597" dy="10">70 to 80</tspan><tspan x="597" dy="10">80 to 90</tspan><tspan x="597" dy="10">90 to 100</tspan><tspan x="597" dy="10">100 to 110</tspan><tspan x="597" dy="10">110 to 120</tspan><tspan x="597" dy="10">120 to 150</tspan><tspan x="597" dy="10">150 to 200</tspan><tspan x="597" dy="10">200 to 300</tspan></text>
<text class="v" x="669" y="987.5"><tspan x="669">82.5</tspan><tspan x="669" dy="10">.011</tspan><tspan x="669" dy="10">.057</tspan><tspan x="669" dy="10">.113</tspan><tspan x="669" dy="10">.221</tspan><tspan x="669" dy="10">.217</tspan><tspan x="669" dy="10">.231</tspan><tspan x="669" dy="10">.285</tspan><tspan x="669" dy="10">.339</tspan><tspan x="669" dy="10">.386</tspan><tspan x="669" dy="10">.387</tspan><tspan x="669" dy="10">.336</tspan><tspan x="669" dy="10">.337</tspan><tspan x="669" dy="10">.334</tspan><tspan x="669" dy="10">.338</tspan><tspan x="669" dy="10">.334</tspan><tspan x="669" dy="10">.272</tspan><tspan x="669" dy="10">.381</tspan><tspan x="669" dy="10">0.45</tspan><tspan x="669" dy="10">14.5</tspan></text>
<text class="f" x="655" y="1191">22.2 ± 73</text>
</g>

<g id="n_act_pit_rate_mmyr">
<rect class="c" x="762" y="962" width="118" height="130"/>
<rect class="ga" x="837" y="976" width="43" height="99"/>
<line class="s" x1="762" y1="976" x2="880" y2="976"/>
<line class="s" x1="762" y1="1075" x2="880" y2="1075"/>
<text class="t" x="821" y="972">Act Pit Rate mm/yr</text>
<path class="b" d="M837 977.5h3v7h-3z M837 987.4h7v7h-7z M837 997.3h15v7h-15z M837 1007.2h27v7h-27z M837 1017.1h35v7h-35z M837 1027h35v7h-35z M837 1036.9h27v7h-27z M837 1046.8h15v7h-15z M837 1056.7h7v7h-7z M837 1066.6h3v7h-3z"/>
<text class="l" x="766" y="983.5"><tspan x="766">0 to 10</tspan><tspan x="766" dy="9.9">10 to 20</tspan><tspan x="766" dy="9.9">20 to 30</tspan><tspan x="766" dy="9.9">30 to 40</tspan><tspan x="766" dy="9.9">40 to 50</tspan><tspan x="766" dy="9.9">50 to 60</tspan><tspan x="766" dy="9.9">60 to 70</tspan><tspan x="766" dy="9.9">70 to 80</tspan><tspan x="766" dy="9.9">80 to 90</tspan><tspan x="766" dy="9.9">90 to 100</tspan></text>
<text class="v" x="832" y="983.5"><tspan x="832">1.37</tspan><tspan x="832" dy="9.9">4.45</tspan><tspan x="832" dy="9.9">8.80</tspan><tspan x="832" dy="9.9">13.0</tspan><tspan x="832" dy="9.9">15.4</tspan><tspan x="832" dy="9.9">15.4</tspan><tspan x="832" dy="9.9">13.0</tspan><tspan x="832" dy="9.9">8.80</tspan><tspan x="832" dy="9.9">4.45</tspan><tspan x="832" dy="9.9">1.37</tspan></text>
<text class="f" x="821" y="1087">50 ± 16</text>
</g>

<g id="n_shock_rating">
<rect class="c" x="919" y="1007" width="98" height="37"/>
<rect class="ga" x="971" y="1020" width="46" height="24"/>
<line class="s" x1="919" y1="1020" x2="1017" y2="1020"/>
<text class="t" x="968" y="1016.5">Shock Rating?</text>
<line class="d" x1="983" y1="1021" x2="983" y2="1043"/>
<line class="d" x1="994" y1="1021" x2="994" y2="1043"/>
<line class="d" x1="1005" y1="1021" x2="1005" y2="1043"/>
<path class="b" d="M971 1021.5h10v8h-10z M971 1032.5h35v8h-35z"/>
<text class="l" x="923" y="1029"><tspan x="923">Yes</tspan><tspan x="923" dy="11">No</tspan></text>
<text class="v" x="967" y="1029"><tspan x="967">22.8</tspan><tspan x="967" dy="11">77.2</tspan></text>
</g>

<g id="n_leak_alarming">
<rect class="c" x="881" y="1105" width="98" height="37"/>
<rect class="ga" x="933" y="1118" width="46" height="24"/>
<line class="s" x1="881" y1="1118" x2="979" y2="1118"/>
<text class="t" x="930" y="1114.5">Leak Alarming?</text>
<line class="d" x1="945" y1="1119" x2="945" y2="1141"/>
<line class="d" x1="956" y1="1119" x2="956" y2="1141"/>
<line class="d" x1="967" y1="1119" x2="967" y2="1141"/>
<path class="b" d="M933 1119.5h7v8h-7z M933 1130.5h39v8h-39z"/>
<text class="l" x="885" y="1127"><tspan x="885">Yes</tspan><tspan x="885" dy="11">No</tspan></text>
<text class="v" x="929" y="1127"><tspan x="929">15.2</tspan><tspan x="929" dy="11">84.8</tspan></text>
</g>

<g id="n_leak_alarm_ip">
<rect class="c" x="881" y="1170" width="98" height="37"/>
<rect class="ga" x="933" y="1183" width="46" height="24"/>
<line class="s" x1="881" y1="1183" x2="979" y2="1183"/>
<text class="t" x="930" y="1179.5">Leak Alarm Ip</text>
<line class="d" x1="945" y1="1184" x2="945" y2="1206"/>
<line class="d" x1="956" y1="1184" x2="956" y2="1206"/>
<line class="d" x1="967" y1="1184" x2="967" y2="1206"/>
<path class="b" d="M933 1184.5h7v8h-7z M933 1195.5h39v8h-39z"/>
<text class="l" x="885" y="1192"><tspan x="885">Yes</tspan><tspan x="885" dy="11">No</tspan></text>
<text class="v" x="929" y="1192"><tspan x="929">14.5</tspan><tspan x="929" dy="11">85.5</tspan></text>
</g>

<g id="n_oca_tested">
<rect class="k" x="755" y="1182" width="98" height="37"/>
<rect class="ka" x="807" y="1195" width="46" height="24"/>
<line class="s" x1="755" y1="1195" x2="853" y2="1195"/>
<text class="t" x="804" y="1191.5">OCA Tested?</text>
<line class="d" x1="819" y1="1196" x2="819" y2="1218"/>
<line class="d" x1="830" y1="1196" x2="830" y2="1218"/>
<line class="d" x1="841" y1="1196" x2="841" y2="1218"/>
<path class="b" d="M807 1196.5h3v8h-3z M807 1207.5h44v8h-44z"/>
<text class="l" x="759" y="1204"><tspan x="759">Yes</tspan><tspan x="759" dy="11">No</tspan></text>
<text class="v" x="803" y="1204"><tspan x="803">4.15</tspan><tspan x="803" dy="11">95.9</tspan></text>
</g>
</svg>
